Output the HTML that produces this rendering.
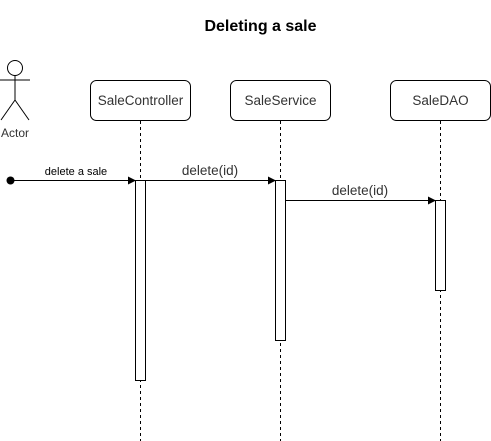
<!DOCTYPE html>
<html><head><meta charset="utf-8"><style>
html,body{margin:0;padding:0;background:#fff;}
svg{display:block;font-family:"Liberation Sans",sans-serif;}
</style></head><body>
<svg width="491" height="441" viewBox="0 0 491 441" xmlns="http://www.w3.org/2000/svg">
<defs><marker id="a" markerWidth="8" markerHeight="8" refX="7" refY="4" orient="auto" markerUnits="userSpaceOnUse"><path d="M0,0 L8,4 L0,8 Z" fill="#000"/></marker></defs>
<text x="260.5" y="31" font-size="16" font-weight="bold" text-anchor="middle">Deleting a sale</text>
<g stroke="#000" stroke-width="1" fill="none">
<circle cx="15" cy="68" r="7.5" fill="#fff"/>
<line x1="15" y1="75.5" x2="15" y2="100"/>
<line x1="0" y1="80" x2="30" y2="80"/>
<line x1="15" y1="100" x2="1" y2="120"/>
<line x1="15" y1="100" x2="29" y2="120"/>
</g>
<text x="15" y="137" font-size="12" text-anchor="middle" fill="#333">Actor</text>
<g stroke="#000" stroke-width="1" fill="#fff">
<rect x="90.5" y="80.5" width="100" height="40" rx="6"/>
<rect x="230.5" y="80.5" width="100" height="40" rx="6"/>
<rect x="390.5" y="80.5" width="100" height="40" rx="6"/>
</g>
<g font-size="13.5" text-anchor="middle" fill="#333">
<text x="140.5" y="105">SaleController</text>
<text x="280.5" y="105">SaleService</text>
<text x="440.5" y="105">SaleDAO</text>
</g>
<g stroke="#000" stroke-width="1" stroke-dasharray="3,3">
<line x1="140.5" y1="121" x2="140.5" y2="441"/>
<line x1="280.5" y1="121" x2="280.5" y2="441"/>
<line x1="440.5" y1="121" x2="440.5" y2="441"/>
</g>
<g stroke="#000" stroke-width="1" fill="#fff">
<rect x="135.5" y="180.5" width="10" height="200"/>
<rect x="275.5" y="180.5" width="10" height="160"/>
<rect x="435.5" y="200.5" width="10" height="90"/>
</g>
<circle cx="10.5" cy="180.5" r="4" fill="#000"/>
<g stroke="#000" stroke-width="1">
<line x1="10.5" y1="180.5" x2="135" y2="180.5" marker-end="url(#a)"/>
<line x1="145.5" y1="180.5" x2="275" y2="180.5" marker-end="url(#a)"/>
<line x1="285.5" y1="200.5" x2="435" y2="200.5" marker-end="url(#a)"/>
</g>
<text x="76" y="175" font-size="11" text-anchor="middle" fill="#000">delete a sale</text>
<text x="210" y="175" font-size="13.5" text-anchor="middle" fill="#333">delete(id)</text>
<text x="360" y="195" font-size="13.5" text-anchor="middle" fill="#333">delete(id)</text>
</svg>
</body></html>
